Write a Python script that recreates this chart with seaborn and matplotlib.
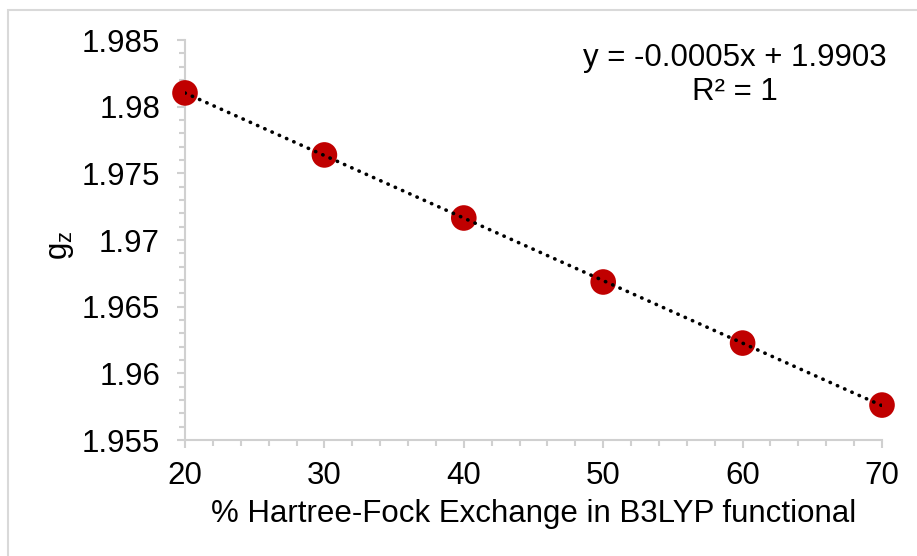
import matplotlib
matplotlib.use("Agg")
import matplotlib.pyplot as plt
import matplotlib.patches as mpatches
from matplotlib.ticker import MultipleLocator, FixedFormatter, FixedLocator
import seaborn as sns
import pandas as pd

# Data
hf_exchange = [20, 30, 40, 50, 60, 70]
gz_values = [1.98103, 1.97638, 1.97165, 1.96685, 1.96227, 1.95762]
y_ticks = [1.955, 1.96, 1.965, 1.97, 1.975, 1.98, 1.985]
y_tick_labels = ["1.955", "1.96", "1.965", "1.97", "1.975", "1.98", "1.985"]
x_ticks = [20, 30, 40, 50, 60, 70]
equation_text = "y = -0.0005x + 1.9903"
r2_text = "R\u00b2 = 1"
x_label = "% Hartree-Fock Exchange in B3LYP functional"

df = pd.DataFrame({"hf": hf_exchange, "gz": gz_values})

sns.set_theme(style="white")
plt.rcParams["font.family"] = ["Liberation Sans", "DejaVu Sans"]
plt.rcParams["mathtext.fontset"] = "custom"
plt.rcParams["mathtext.rm"] = "Liberation Sans"
plt.rcParams["mathtext.default"] = "regular"

W, H = 917, 556
FS = 22.5
fig = plt.figure(figsize=(W / 100, H / 100), dpi=100)
fig.patch.set_facecolor("white")
ax = fig.add_axes([185 / W, 1 - 440 / H, (882 - 185) / W, (440 - 40) / H])

sns.scatterplot(data=df, x="hf", y="gz", ax=ax, s=340, color="#c00000",
                edgecolor="none", linewidth=0, zorder=3, clip_on=False, legend=False)
sns.regplot(data=df, x="hf", y="gz", ax=ax, scatter=False, ci=None, truncate=True,
            line_kws=dict(color="black", lw=2.6, linestyle=(0, (0.1, 2.1)),
                          dash_capstyle="round", zorder=4))

ax.set_xlim(20, 70)
ax.set_ylim(1.955, 1.985)
ax.xaxis.set_major_locator(FixedLocator(x_ticks))
ax.xaxis.set_minor_locator(MultipleLocator(2))
ax.yaxis.set_major_locator(FixedLocator(y_ticks))
ax.yaxis.set_major_formatter(FixedFormatter(y_tick_labels))
ax.yaxis.set_minor_locator(MultipleLocator(0.001))

spine_col = "#d0d0d0"
for s in ["top", "right"]:
    ax.spines[s].set_visible(False)
for s in ["left", "bottom"]:
    ax.spines[s].set_color(spine_col)
    ax.spines[s].set_linewidth(1.5)

ax.tick_params(axis="both", which="both", direction="out", color=spine_col, width=1.5,
               left=True, bottom=True)
ax.tick_params(axis="both", which="major", length=6, labelsize=FS, labelcolor="black")
ax.tick_params(axis="both", which="minor", length=4.5)
ax.tick_params(axis="y", which="major", pad=12)
ax.tick_params(axis="x", which="major", pad=9)

ax.set_xlabel(x_label, fontsize=FS, color="black", labelpad=6)
ax.set_ylabel("g$_{z}$", fontsize=FS, color="black")
ax.yaxis.set_label_coords(-0.156, 0.4875)

fig.text(735 / W, 1 - 58 / H, equation_text, ha="center", va="center", fontsize=FS, color="black")
fig.text(735 / W, 1 - 92 / H, r2_text, ha="center", va="center", fontsize=FS, color="black")

border = mpatches.Rectangle((8 / W, -0.1), 1.2, 1 - 10 / H + 0.1, transform=fig.transFigure,
                            fill=False, edgecolor="#d9d9d9", linewidth=1.5)
fig.patches.append(border)

fig.savefig("out.png", dpi=100, facecolor="white")
